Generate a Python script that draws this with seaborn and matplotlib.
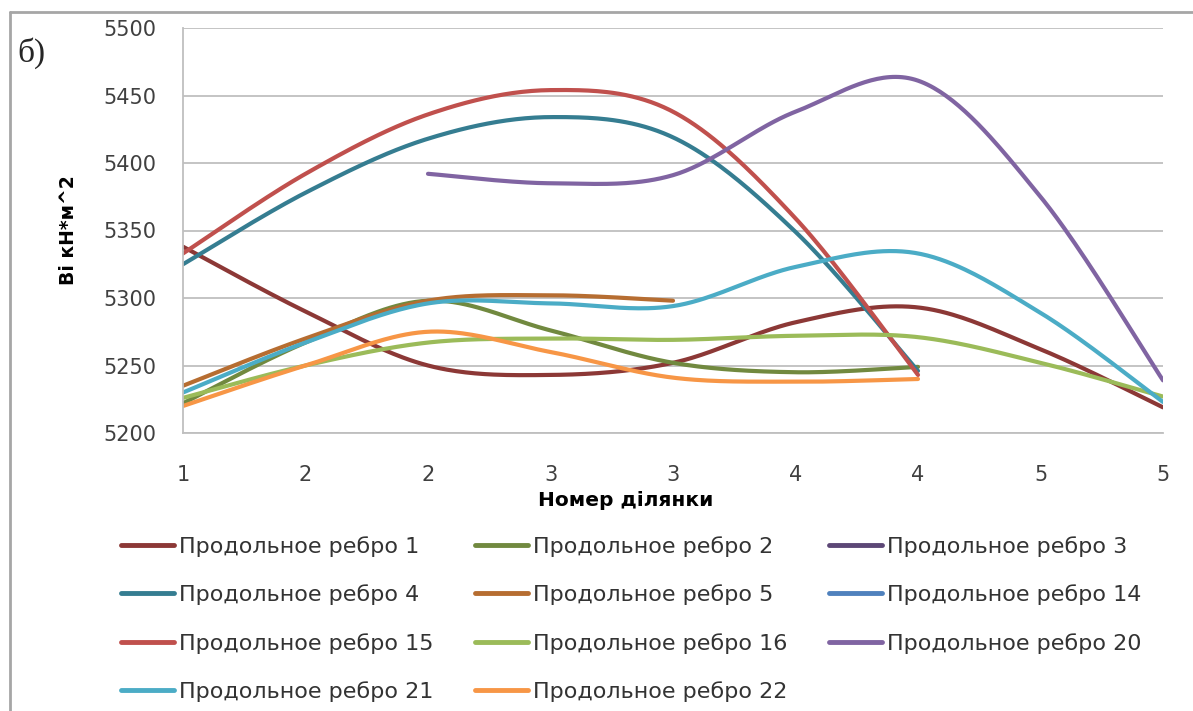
import numpy as np
import pandas as pd
import matplotlib
matplotlib.use("Agg")
import matplotlib.pyplot as plt
from matplotlib.lines import Line2D
import seaborn as sns

# ---- data ----
x_labels = ["1", "2", "2", "3", "3", "4", "4", "5", "5"]
nan = np.nan
rebro_1 = [5338, 5290, 5250, 5243, 5252, 5282, 5293, 5262, 5219]
rebro_2 = [5222, 5267, 5298, 5276, 5252, 5245, 5249, nan, nan]
rebro_3 = [nan] * 9
rebro_4 = [5325, 5378, 5418, 5434, 5419, 5349, 5246, nan, nan]
rebro_5 = [5235, 5270, 5298, 5302, 5298, nan, nan, nan, nan]
rebro_14 = [nan] * 9
rebro_15 = [5333, 5392, 5436, 5454, 5438, 5359, 5243, nan, nan]
rebro_16 = [5226, 5250, 5267, 5270, 5269, 5272, 5271, 5252, 5227]
rebro_20 = [nan, nan, 5392, 5385, 5391, 5438, 5461, 5375, 5239]
rebro_21 = [5230, 5267, 5296, 5296, 5294, 5323, 5333, 5289, 5223]
rebro_22 = [5220, 5250, 5275, 5260, 5241, 5238, 5240, nan, nan]

series_names = ["Продольное ребро 1", "Продольное ребро 2", "Продольное ребро 3",
                "Продольное ребро 4", "Продольное ребро 5", "Продольное ребро 14",
                "Продольное ребро 15", "Продольное ребро 16", "Продольное ребро 20",
                "Продольное ребро 21", "Продольное ребро 22"]
series_values = [rebro_1, rebro_2, rebro_3, rebro_4, rebro_5, rebro_14,
                 rebro_15, rebro_16, rebro_20, rebro_21, rebro_22]
colors = ["#8C3836", "#71893F", "#5C4776", "#357D91", "#B66D31", "#4F81BD",
          "#C0504D", "#9BBB59", "#8064A2", "#4BACC6", "#F79646"]

sns.set_theme(style="white")
plt.rcParams["font.family"] = ["DejaVu Sans"]


def smooth_segments(xs, ys, n=40):
    """Excel-like smoothed line (Catmull-Rom Bezier) through the data points."""
    xs = np.asarray(xs, float)
    ys = np.asarray(ys, float)
    ok = ~np.isnan(ys)
    out = []
    idx = np.where(ok)[0]
    if len(idx) == 0:
        return out
    groups = np.split(idx, np.where(np.diff(idx) != 1)[0] + 1)
    for g in groups:
        P = np.column_stack([xs[g], ys[g]])
        if len(P) < 2:
            continue
        Pp = np.vstack([P[0], P, P[-1]])
        pts = []
        t = np.linspace(0, 1, n)[:, None]
        for i in range(len(P) - 1):
            p0, p1, p2, p3 = Pp[i], Pp[i + 1], Pp[i + 2], Pp[i + 3]
            c1 = p1 + (p2 - p0) / 6.0
            c2 = p2 - (p3 - p1) / 6.0
            seg = ((1 - t) ** 3) * p1 + 3 * ((1 - t) ** 2) * t * c1 + 3 * (1 - t) * t ** 2 * c2 + t ** 3 * p2
            pts.append(seg if i == 0 else seg[1:])
        out.append(np.vstack(pts))
    return out


W, H = 1193, 711
fig = plt.figure(figsize=(W / 100, H / 100), dpi=100)
ax = fig.add_axes([183 / W, (H - 433) / H, (1163 - 183) / W, (433 - 28) / H])

xpos = np.arange(len(x_labels))
for name, vals, col in zip(series_names, series_values, colors):
    for seg in smooth_segments(xpos, vals):
        sns.lineplot(x=seg[:, 0], y=seg[:, 1], ax=ax, color=col, lw=3.0,
                     sort=False, estimator=None, legend=False)

ax.set_xlim(0, 8)
ax.set_ylim(5200, 5500)
ax.set_yticks(np.arange(5200, 5501, 50))
ax.set_xticks(xpos)
ax.set_xticklabels(x_labels)
ax.yaxis.grid(True, color="#BFBFBF", lw=1.3)
ax.xaxis.grid(False)
for s in ["top", "right"]:
    ax.spines[s].set_visible(False)
for s in ["left", "bottom"]:
    ax.spines[s].set_color("#BFBFBF")
    ax.spines[s].set_linewidth(1.3)
ax.tick_params(axis="both", which="both", direction="out", length=6, width=1.3,
               color="#BFBFBF", labelsize=15, labelcolor="#404040")
ax.tick_params(axis="y", pad=13)
ax.tick_params(axis="x", pad=17)
ax.set_axisbelow(True)

ax.set_ylabel("Ві кН*м^2", fontsize=13.5, fontweight="bold", color="black")
ax.yaxis.set_label_coords((68 - 183) / (1163 - 183), 0.5)
ax.set_xlabel("Номер ділянки", fontsize=14.5, fontweight="bold", color="black")
ax.xaxis.set_label_coords((626 - 183) / (1163 - 183), -(500 - 433) / (433 - 28))
ax.xaxis.label.set_va("center")
ax.yaxis.label.set_va("center")

# frame lines of the chart area
fig.add_artist(Line2D([10 / W, 10 / W], [0, 1 - 12 / H], transform=fig.transFigure,
                      color="#A6A6A6", lw=2))
fig.add_artist(Line2D([10 / W, 1], [1 - 12 / H, 1 - 12 / H], transform=fig.transFigure,
                      color="#A6A6A6", lw=2))
fig.text(17 / W, 1 - 53 / H, "б)", fontsize=24, family=["Liberation Serif", "DejaVu Serif"],
         va="center", ha="left")

# legend (row-major order in the picture → column-major for matplotlib)
order = [0, 3, 6, 9, 1, 4, 7, 10, 2, 5, 8]
handles = [Line2D([], [], color=colors[i], lw=3.5) for i in order]
labels = [series_names[i] for i in order]
fig.legend(handles, labels, ncol=3, loc="upper left",
           bbox_to_anchor=(101 / W, 1 - 516 / H), frameon=False,
           fontsize=16, handlelength=2.4, handletextpad=0.22,
           columnspacing=1.85, labelspacing=1.24, labelcolor="#333333")

fig.savefig("out.png", dpi=100, facecolor="white")
